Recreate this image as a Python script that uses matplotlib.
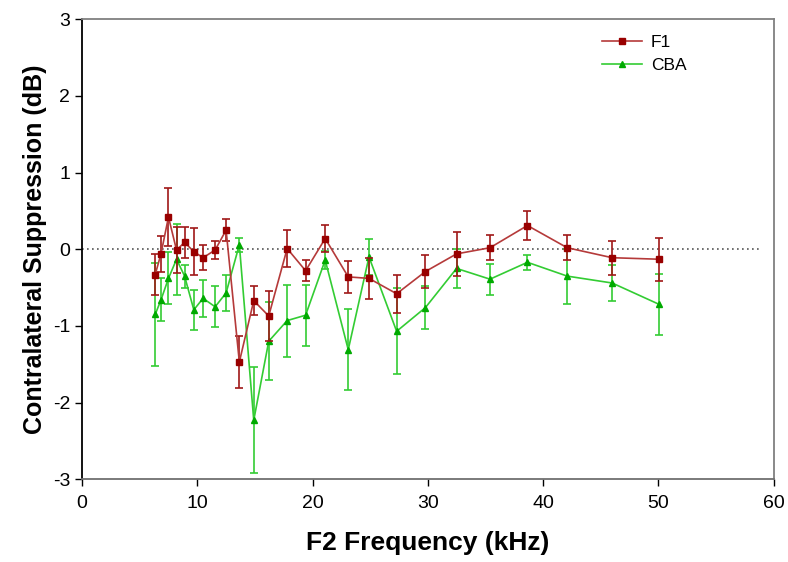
import matplotlib
matplotlib.use("Agg")
from matplotlib import pyplot as plt

plt.rcParams['font.family'] = ['Liberation Sans', 'DejaVu Sans']
plt.rcParams['axes.unicode_minus'] = False

freq = [6.35, 6.85, 7.5, 8.2, 8.9, 9.7, 10.5, 11.55, 12.5, 13.65, 14.9, 16.2, 17.8,
        19.4, 21.1, 23.1, 24.9, 27.3, 29.8, 32.5, 35.4, 38.65, 42.1, 46.0, 50.1]

f1 = [-0.33, -0.06, 0.42, -0.01, 0.09, -0.03, -0.11, -0.01, 0.25, -1.47, -0.67, -0.87, 0.01,
      -0.28, 0.14, -0.36, -0.38, -0.58, -0.29, -0.06, 0.02, 0.31, 0.02, -0.11, -0.13]
f1_err = [0.27, 0.23, 0.38, 0.30, 0.20, 0.31, 0.16, 0.12, 0.14, 0.34, 0.19, 0.32, 0.24,
          0.14, 0.18, 0.21, 0.27, 0.25, 0.21, 0.29, 0.16, 0.19, 0.16, 0.22, 0.28]

cba = [-0.85, -0.66, -0.38, -0.13, -0.35, -0.79, -0.64, -0.75, -0.57, 0.06, -2.23, -1.20, -0.93,
       -0.86, -0.14, -1.31, -0.10, -1.07, -0.76, -0.25, -0.39, -0.17, -0.35, -0.44, -0.72]
cba_err = [0.67, 0.28, 0.34, 0.46, 0.15, 0.26, 0.24, 0.27, 0.24, 0.09, 0.69, 0.51, 0.47,
           0.40, 0.12, 0.53, 0.24, 0.56, 0.28, 0.25, 0.20, 0.10, 0.36, 0.24, 0.40]

fig = plt.figure(figsize=(7.88, 5.62), dpi=100)
ax = fig.add_axes([0.1041, 0.1472, 0.8775, 0.8185])

ax.axhline(0, xmin=0, xmax=0.98, color="#555555", linestyle=(0, (1, 2)), linewidth=1.2, zorder=1)

cba_eb = ax.errorbar(freq, cba, yerr=cba_err, color="#33CC33", ecolor="#33CC33", elinewidth=1.2,
                     capsize=3, capthick=1.2, marker="^", markersize=5, markerfacecolor="#00AA00",
                     markeredgecolor="#00AA00", linewidth=1.2, zorder=2)
f1_eb = ax.errorbar(freq, f1, yerr=f1_err, color="#B53A3A", ecolor="#A01818", elinewidth=1.2,
                    capsize=3, capthick=1.2, marker="s", markersize=5, markerfacecolor="#990000",
                    markeredgecolor="#990000", linewidth=1.2, zorder=3)

ax.set_xlim(0, 60)
ax.set_ylim(-3, 3)
ax.set_xticks([0, 10, 20, 30, 40, 50, 60])
ax.set_yticks([-3, -2, -1, 0, 1, 2, 3])
ax.tick_params(axis="both", labelsize=14, length=5, width=1, direction="out")
ax.tick_params(axis="x", pad=6)

ax.spines['left'].set_color("black")
ax.spines['bottom'].set_color("#707070")
ax.spines['top'].set_color("#808080")
ax.spines['right'].set_color("#808080")
for s in ax.spines.values():
    s.set_linewidth(1.3)

ax.set_xlabel("F2 Frequency (kHz)", fontsize=19, fontweight="bold", labelpad=14)
ax.set_ylabel("Contralateral Suppression (dB)", fontsize=18, fontweight="bold", labelpad=4)

ax.legend([f1_eb[0], cba_eb[0]], ["F1", "CBA"], loc="upper left", bbox_to_anchor=(0.73, 1.0),
          frameon=False, fontsize=12.5, handlelength=2.3, handletextpad=0.5,
          labelspacing=0.45)

fig.savefig("out.png", dpi=100)
